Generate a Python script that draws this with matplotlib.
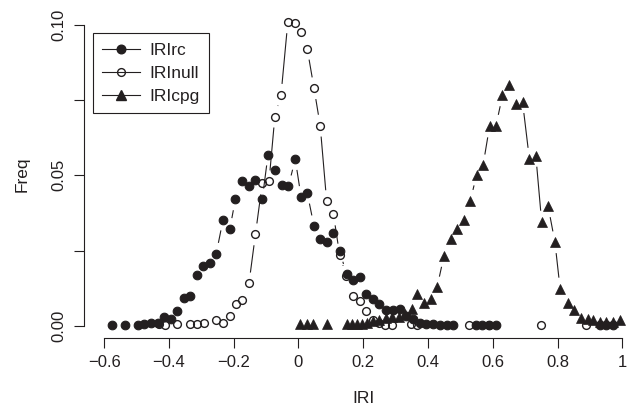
import numpy as np
import matplotlib
matplotlib.use("Agg")
import matplotlib.pyplot as plt
from matplotlib.lines import Line2D

plt.rcParams["font.family"] = ["Liberation Sans", "DejaVu Sans"]
plt.rcParams["font.size"] = 12

ink = "#231f20"

# frequencies (x = IRI bin, y = Freq)
rc_x = [-0.576, -0.535, -0.497, -0.476, -0.455, -0.435, -0.414, -0.395, -0.375, -0.354,
        -0.334, -0.314, -0.294, -0.272, -0.254, -0.233, -0.212, -0.195, -0.173, -0.153,
        -0.133, -0.112, -0.094, -0.073, -0.052, -0.031, -0.010, 0.008, 0.027, 0.048,
        0.067, 0.089, 0.108, 0.127, 0.149, 0.168, 0.189, 0.209, 0.230, 0.250,
        0.271, 0.292, 0.313, 0.333, 0.354, 0.375, 0.395, 0.416, 0.437, 0.458,
        0.476, 0.547, 0.568, 0.589, 0.609, 0.930, 0.950, 0.970]
rc_y = [0.0004, 0.0004, 0.0004, 0.0008, 0.0011, 0.0011, 0.0031, 0.0024, 0.0050, 0.0094,
        0.0099, 0.0168, 0.0199, 0.0210, 0.0240, 0.0353, 0.0322, 0.0420, 0.0480, 0.0464,
        0.0486, 0.0420, 0.0569, 0.0519, 0.0469, 0.0464, 0.0554, 0.0428, 0.0442, 0.0331,
        0.0287, 0.0278, 0.0307, 0.0248, 0.0171, 0.0152, 0.0162, 0.0105, 0.0088, 0.0072,
        0.0053, 0.0053, 0.0055, 0.0033, 0.0022, 0.0011, 0.0005, 0.0005, 0.0004, 0.0004,
        0.0004, 0.0004, 0.0004, 0.0004, 0.0004, 0.0004, 0.0004, 0.0004]

null_x = [-0.432, -0.411, -0.375, -0.334, -0.314, -0.293, -0.254, -0.233, -0.212, -0.194,
          -0.173, -0.153, -0.133, -0.112, -0.091, -0.073, -0.054, -0.033, -0.010, 0.007,
          0.027, 0.048, 0.067, 0.087, 0.108, 0.127, 0.148, 0.168, 0.189, 0.209,
          0.230, 0.250, 0.268, 0.289, 0.346, 0.367, 0.527, 0.589, 0.749, 0.889]
null_y = [0.0005, 0.0003, 0.0008, 0.0008, 0.0005, 0.0011, 0.0020, 0.0011, 0.0033, 0.0072,
          0.0086, 0.0141, 0.0304, 0.0473, 0.0480, 0.0695, 0.0767, 0.1008, 0.1005, 0.0977,
          0.0920, 0.0789, 0.0665, 0.0414, 0.0370, 0.0237, 0.0165, 0.0099, 0.0083, 0.0050,
          0.0020, 0.0010, 0.0004, 0.0004, 0.0006, 0.0003, 0.0003, 0.0003, 0.0003, 0.0003]

cpg_x = [0.005, 0.025, 0.046, 0.087, 0.149, 0.165, 0.180, 0.196, 0.211, 0.230,
         0.250, 0.270, 0.290, 0.310, 0.330, 0.351, 0.367, 0.389, 0.410, 0.428,
         0.449, 0.470, 0.490, 0.511, 0.531, 0.550, 0.570, 0.590, 0.610, 0.630,
         0.651, 0.671, 0.692, 0.713, 0.733, 0.751, 0.771, 0.792, 0.808, 0.831,
         0.852, 0.873, 0.894, 0.910, 0.930, 0.950, 0.971, 0.992]
cpg_y = [0.0008, 0.0008, 0.0008, 0.0005, 0.0008, 0.0008, 0.0008, 0.0008, 0.0010, 0.0015,
         0.0020, 0.0025, 0.0030, 0.0030, 0.0040, 0.0055, 0.0105, 0.0077, 0.0088, 0.0128,
         0.0232, 0.0288, 0.0321, 0.0353, 0.0416, 0.0502, 0.0533, 0.0662, 0.0665, 0.0765,
         0.0800, 0.0737, 0.0743, 0.0555, 0.0565, 0.0346, 0.0397, 0.0278, 0.0124, 0.0077,
         0.0053, 0.0028, 0.0022, 0.0020, 0.0012, 0.0012, 0.0012, 0.0020]

x_ticks = [-0.6, -0.4, -0.2, 0, 0.2, 0.4, 0.6, 0.8, 1]
x_labels = ["\u22120.6", "\u22120.4", "\u22120.2", "0", "0.2", "0.4", "0.6", "0.8", "1"]
y_ticks = [0, 0.025, 0.05, 0.075, 0.1]
y_labels = ["0.00", "", "0.05", "", "0.10"]

W, H = 632, 413
fig = plt.figure(figsize=(W / 100, H / 100), dpi=100)
# plot region like R: it runs past the right edge of the (cropped) picture
ax = fig.add_axes([83.5 / W, (H - 338) / H, 559.5 / W, 328.4 / H])
ax.set_xlim(-0.664, 1.064)
ax.set_ylim(-0.004, 0.105)


def gapped_lines(x, y, gap=11, low=0.0012):
    # R type="b": segments stop short of each point
    pts = ax.transData.transform(np.column_stack([x, y]))
    inv = ax.transData.inverted()
    for i in range(len(x) - 1):
        if y[i] < low and y[i + 1] < low:
            continue
        p0, p1 = pts[i], pts[i + 1]
        d = p1 - p0
        L = np.hypot(*d)
        if L <= 2 * gap:
            continue
        u = d / L
        a = inv.transform(p0 + u * gap)
        b = inv.transform(p1 - u * gap)
        ax.plot([a[0], b[0]], [a[1], b[1]], color=ink, lw=0.8, solid_capstyle="butt")


for xs, ys in [(rc_x, rc_y), (null_x, null_y), (cpg_x, cpg_y)]:
    gapped_lines(xs, ys)

ax.plot(rc_x, rc_y, "o", ms=6.2, mfc=ink, mec=ink, mew=0.8, clip_on=False)
ax.plot(null_x, null_y, "o", ms=5.6, mfc="none", mec=ink, mew=1.0, clip_on=False)
ax.plot(cpg_x, cpg_y, "^", ms=6.8, mfc=ink, mec=ink, mew=0.5, clip_on=False)

for s in ["top", "right"]:
    ax.spines[s].set_visible(False)
ax.spines["left"].set_bounds(0, 0.1)
ax.spines["bottom"].set_bounds(-0.6, 1)
for s in ["left", "bottom"]:
    ax.spines[s].set_color(ink)
    ax.spines[s].set_linewidth(0.8)

ax.set_xticks(x_ticks)
ax.set_xticklabels(x_labels)
ax.set_yticks(y_ticks)
ax.set_yticklabels(y_labels, rotation=90, va="center")
ax.tick_params(direction="out", length=7, width=0.8, color=ink, labelcolor=ink,
               labelsize=12, pad=5)

ax.set_xlabel("IRI", fontsize=12.5, color=ink)
ax.set_ylabel("Freq", fontsize=12.5, color=ink)
ax.xaxis.set_label_coords(0.5, -0.16)
ax.yaxis.set_label_coords(-0.096, 0.5)

handles = [
    Line2D([], [], color=ink, lw=0.8, marker="o", ms=6.2, mfc=ink, mec=ink),
    Line2D([], [], color=ink, lw=0.8, marker="o", ms=5.6, mfc="none", mec=ink, mew=1.0),
    Line2D([], [], color=ink, lw=0.8, marker="^", ms=6.8, mfc=ink, mec=ink),
]
leg = fig.legend(handles, ["IRIrc", "IRInull", "IRIcpg"], loc="upper left",
                 bbox_to_anchor=(92.7 / W, 1 - 33.3 / H), bbox_transform=fig.transFigure,
                 borderaxespad=0, fancybox=False, framealpha=1, edgecolor=ink,
                 fontsize=12.5, handlelength=2.2, handletextpad=0.5,
                 borderpad=0.55, labelspacing=0.45, numpoints=1)
leg.get_frame().set_linewidth(0.8)
for t in leg.get_texts():
    t.set_color(ink)

fig.savefig("out.png", dpi=100)
